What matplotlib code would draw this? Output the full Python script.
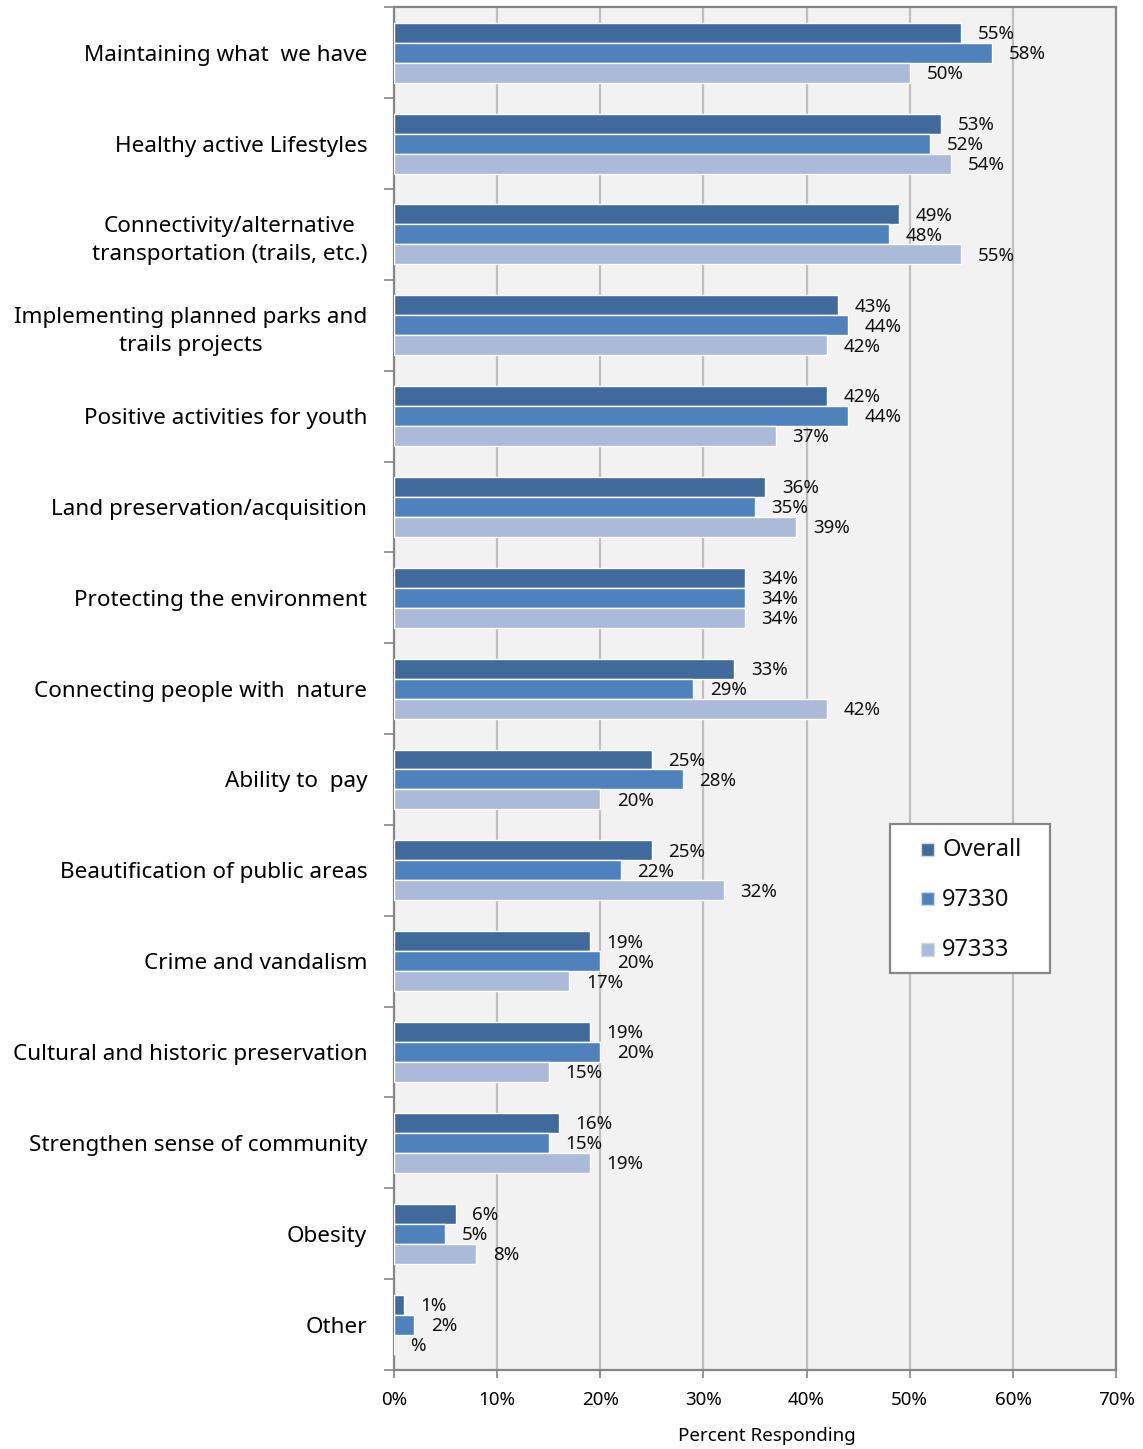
import matplotlib
matplotlib.use("Agg")
import matplotlib.pyplot as plt
import numpy as np
from matplotlib.patches import Rectangle

categories = [
    "Maintaining what  we have",
    "Healthy active Lifestyles",
    "Connectivity/alternative\ntransportation (trails, etc.)",
    "Implementing planned parks and\ntrails projects",
    "Positive activities for youth",
    "Land preservation/acquisition",
    "Protecting the environment",
    "Connecting people with  nature",
    "Ability to  pay",
    "Beautification of public areas",
    "Crime and vandalism",
    "Cultural and historic preservation",
    "Strengthen sense of community",
    "Obesity",
    "Other",
]
series_names = ["Overall", "97330", "97333"]
overall = [55, 53, 49, 43, 42, 36, 34, 33, 25, 25, 19, 19, 16, 6, 1]
zip_97330 = [58, 52, 48, 44, 44, 35, 34, 29, 28, 22, 20, 20, 15, 5, 2]
zip_97333 = [50, 54, 55, 42, 37, 39, 34, 42, 20, 32, 17, 15, 19, 8, 0]
# the value label of the empty "Other" bar in 97333 shows only the sign
labels_97333 = [f"{v}%" for v in zip_97333[:-1]] + ["%"]
x_ticks = [0, 10, 20, 30, 40, 50, 60, 70]

colors = ["#406A9C", "#4F81BD", "#AABAD8"]
series = [overall, zip_97330, zip_97333]
label_sets = [[f"{v}%" for v in overall], [f"{v}%" for v in zip_97330], labels_97333]

FONT = ["Noto Sans", "DejaVu Sans"]
plt.rcParams["font.family"] = FONT

W, H = 1143, 1449
fig = plt.figure(figsize=(W / 100, H / 100), dpi=100)
ax = fig.add_axes([0.3445, 0.0545, 0.6320, 0.9405])
ax.set_facecolor("#F2F2F2")

n = len(categories)
centers = np.arange(n)
h = 0.22
offsets = [-h, 0.0, h]
for vals, labs, col, off, name in zip(series, label_sets, colors, offsets, series_names):
    bars = ax.barh(centers + off, vals, height=h, color=col, edgecolor="white",
                   linewidth=1.0, zorder=3, label=name)
    for b, v, lab in zip(bars, vals, labs):
        ax.annotate(lab, (v, b.get_y() + b.get_height() / 2),
                    xytext=(12, -1), textcoords="offset points",
                    ha="left", va="center", fontsize=13.5, color="#111111", zorder=4)

ax.set_xlim(0, 70)
ax.set_ylim(n - 0.5, -0.5)

ax.set_xticks(x_ticks)
ax.set_xticklabels([f"{t}%" for t in x_ticks], fontsize=13.5)
ax.xaxis.grid(True, color="#BEBEBE", linewidth=1.6, zorder=1)
ax.set_axisbelow(True)
ax.tick_params(axis="x", length=6, width=1.2, color="#868686", pad=9)

# category boundaries as major ticks, names as minor ticks at the centers
ax.set_yticks(np.arange(-0.5, n, 1.0))
ax.set_yticklabels([])
ax.tick_params(axis="y", which="major", length=7, width=1.2, color="#868686", direction="out")
ax.set_yticks(centers, minor=True)
ax.set_yticklabels(categories, minor=True, fontsize=16.2, ha="right",
                   multialignment="center", linespacing=1.45)
ax.tick_params(axis="y", which="minor", length=0, pad=19)

for s in ax.spines.values():
    s.set_color("#868686")
    s.set_linewidth(1.6)

ax.set_xlabel("Percent Responding", fontsize=13.5, va="center")
ax.xaxis.set_label_coords(0.517, -0.0485)


# legend box, drawn in figure pixels
def px(x, y):
    return x / W, 1 - y / H


lx0, ly0, lx1, ly1 = 890, 824, 1050, 973
fx, fy = px(lx0, ly1)
fig.patches.append(Rectangle((fx, fy), (lx1 - lx0) / W, (ly1 - ly0) / H,
                             transform=fig.transFigure, facecolor="white",
                             edgecolor="#868686", linewidth=1.6, zorder=5))
sq = 13
for i, (name, col) in enumerate(zip(series_names, colors)):
    cy = 849 + 50 * i
    sx, sy = px(921, cy + sq / 2)
    fig.patches.append(Rectangle((sx, sy), sq / W, sq / H, transform=fig.transFigure,
                                 facecolor=col, edgecolor="#D0D8E8", linewidth=1.0,
                                 zorder=6))
    tx, ty = px(942, cy + 1)
    fig.text(tx, ty, name, fontsize=17, va="center", ha="left", color="#111111",
             zorder=7)

fig.savefig("out.png", dpi=100, facecolor="white")
